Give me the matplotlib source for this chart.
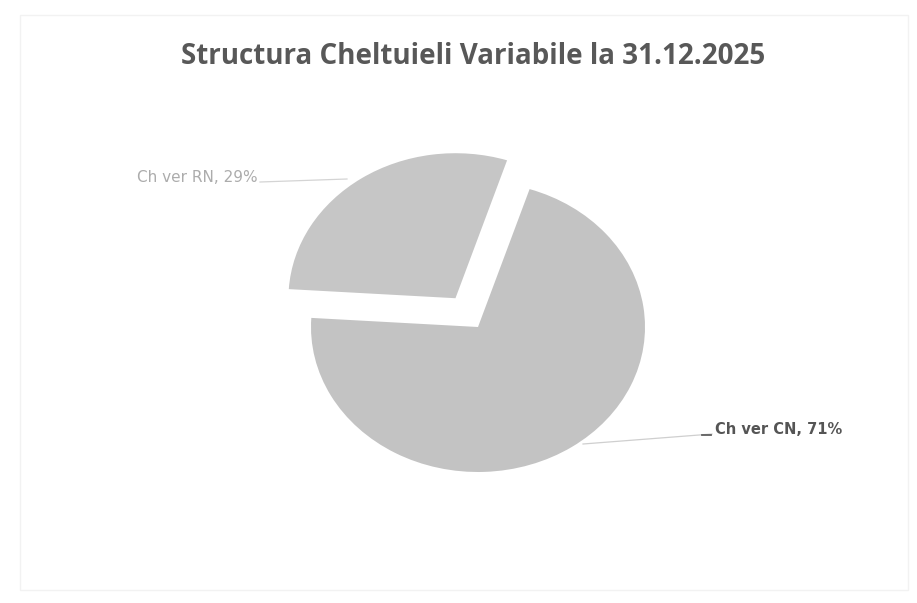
import matplotlib.pyplot as plt
import numpy as np
from matplotlib.patches import Rectangle

# data
labels = ['Ch ver CN', 'Ch ver RN']
shares = [71, 29]
title = 'Structura Cheltuieli Variabile la 31.12.2025'

W, H = 917, 603
cx, cy = 478, 327     # pie centre in pixels
rx, ry = 167, 145     # scanned pie is a bit squashed

fig = plt.figure(figsize=(W / 100, H / 100), dpi=100)
fig.patch.set_facecolor('white')
ax = fig.add_axes([0, 0, 1, 1])


def px(x, y):
    # pixel (from top-left) -> data coords
    return (x - cx) / rx, (cy - y) / ry


wedges, _ = ax.pie(shares, explode=[0, 0.24], startangle=72, counterclock=False,
                   colors=['#c3c3c3', '#c6c6c6'],
                   wedgeprops=dict(linewidth=0))

ax.set_aspect('auto')
x0, y0 = px(0, H)
x1, y1 = px(W, 0)
ax.set_xlim(x0, x1)
ax.set_ylim(y0, y1)
ax.axis('off')

# faint chart area border
fig.patches.append(Rectangle((20 / W, 1 - 590 / H), 888 / W, 575 / H,
                             transform=fig.transFigure, fill=False,
                             edgecolor='#f2f2f2', linewidth=1))

fig.text(473 / W, 1 - 57 / H, title, ha='center', va='center',
         fontsize=20, fontweight='bold', family='Open Sans', color='#585858')

# labels with leader lines
ax.plot(*zip(px(260, 182), px(347, 179)), color='#d4d4d4', lw=0.9)
ax.text(*px(258, 177), f'{labels[1]}, {shares[1]}%', ha='right', va='center',
        fontsize=11, color='#acacac', family='DejaVu Sans')

ax.plot(*zip(px(583, 444), px(712, 434)), color='#cfcfcf', lw=0.9)
ax.plot(*zip(px(702, 435), px(711, 435)), color='#606060', lw=1.3)
ax.text(*px(715, 429), f'{labels[0]}, {shares[0]}%', ha='left', va='center',
        fontsize=10.5, color='#555555', family='DejaVu Sans', fontweight='bold')

plt.savefig('out.png', dpi=100, facecolor='white')
